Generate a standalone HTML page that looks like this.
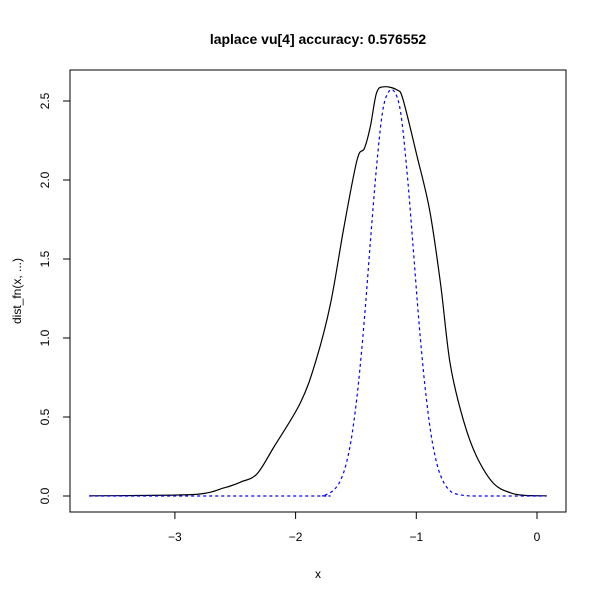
<!DOCTYPE html>
<html><head><meta charset="utf-8"><style>
body{margin:0;background:#fff}
svg text{font-family:"Liberation Sans",sans-serif;fill:#000}
</style></head><body>
<svg width="600" height="600" xmlns="http://www.w3.org/2000/svg">
<text x="318" y="44" text-anchor="middle" font-size="14" font-weight="bold">laplace vu[4] accuracy: 0.576552</text>
<rect x="70" y="70" width="496" height="442" fill="none" stroke="#000"/>
<g id="axes"></g>
<text x="318" y="578" text-anchor="middle" font-size="12">x</text>
<text transform="translate(21,291) rotate(-90)" text-anchor="middle" font-size="12">dist_fn(x, ...)</text>
<path id="black" fill="none" stroke="#000" stroke-width="1.2"/>
<path id="blue" fill="none" stroke="#0000ff" stroke-width="1.2" stroke-dasharray="3,3"/>
</svg>
<script>
const xTicks=[-3,-2,-1,0];
const xTickLabels=["\u22123","\u22122","\u22121","0"];
const yTicks=[0,0.5,1,1.5,2,2.5];
const yTickLabels=["0.0","0.5","1.0","1.5","2.0","2.5"];
const blackX=[-3.71,-3.3,-3.0,-2.8,-2.7,-2.6,-2.54,-2.45,-2.32,-2.18,-1.96,-1.83,-1.71,-1.6,-1.49,-1.43,-1.38,-1.33,-1.27,-1.16,-1.11,-1.0,-0.89,-0.8,-0.72,-0.61,-0.5,-0.36,-0.22,-0.1,0.08];
const blackY=[0.001,0.003,0.006,0.012,0.025,0.05,0.063,0.09,0.14,0.31,0.59,0.86,1.22,1.7,2.13,2.2,2.34,2.55,2.59,2.57,2.51,2.17,1.81,1.35,0.84,0.48,0.25,0.08,0.02,0.004,0.001];
const blueX=[-3.71,-1.88,-1.78,-1.73,-1.68,-1.63,-1.58,-1.53,-1.48,-1.43,-1.38,-1.33,-1.28,-1.23,-1.18,-1.13,-1.08,-1.03,-0.98,-0.93,-0.88,-0.83,-0.78,-0.73,-0.68,-0.58,-0.48,0.08];
const blueY=[0,0,0.0016,0.015,0.04,0.096,0.206,0.4,0.71,1.12,1.61,2.08,2.43,2.557,2.557,2.43,2.08,1.61,1.12,0.71,0.4,0.206,0.096,0.04,0.015,0.0016,0,0];
const X=v=>537+(v)*120.7, Y=v=>496-v*158;
const ns="http://www.w3.org/2000/svg", g=document.getElementById('axes');
function mk(t,a){const e=document.createElementNS(ns,t);for(const k in a)e.setAttribute(k,a[k]);g.appendChild(e);return e;}
xTicks.forEach((v,i)=>{
 const l=mk('line',{x1:X(v),x2:X(v),y1:512,y2:519,stroke:'#000'});
 
 
 const t=mk('text',{x:X(v),y:541,'text-anchor':'middle','font-size':12});
 t.textContent=xTickLabels[i];
 
 
});
yTicks.forEach((v,i)=>{
 const l=mk('line',{x1:63,x2:70,y1:Y(v),y2:Y(v),stroke:'#000'});
 
 
 const t=mk('text',{transform:`translate(49,${Y(v)}) rotate(-90)`,'text-anchor':'middle','font-size':12});
 t.textContent=yTickLabels[i];
 
 
});
function pathD(xs,ys){
 const p=xs.map((x,i)=>[X(x),Y(ys[i])]);
 let d='M'+p[0][0].toFixed(1)+','+p[0][1].toFixed(1);
 for(let i=0;i<p.length-1;i++){
  const p0=p[Math.max(0,i-1)],p1=p[i],p2=p[i+1],p3=p[Math.min(p.length-1,i+2)];
  const c1=[p1[0]+(p2[0]-p0[0])/6,p1[1]+(p2[1]-p0[1])/6];
  const c2=[p2[0]-(p3[0]-p1[0])/6,p2[1]-(p3[1]-p1[1])/6];
  c1[1]=Math.min(c1[1],496);c2[1]=Math.min(c2[1],496);
  d+=` C${c1[0].toFixed(1)},${c1[1].toFixed(1)} ${c2[0].toFixed(1)},${c2[1].toFixed(1)} ${p2[0].toFixed(1)},${p2[1].toFixed(1)}`;
 }
 return d;
}
document.getElementById('black').setAttribute('d',pathD(blackX,blackY));
document.getElementById('blue').setAttribute('d',pathD(blueX,blueY));
</script>
</body></html>
